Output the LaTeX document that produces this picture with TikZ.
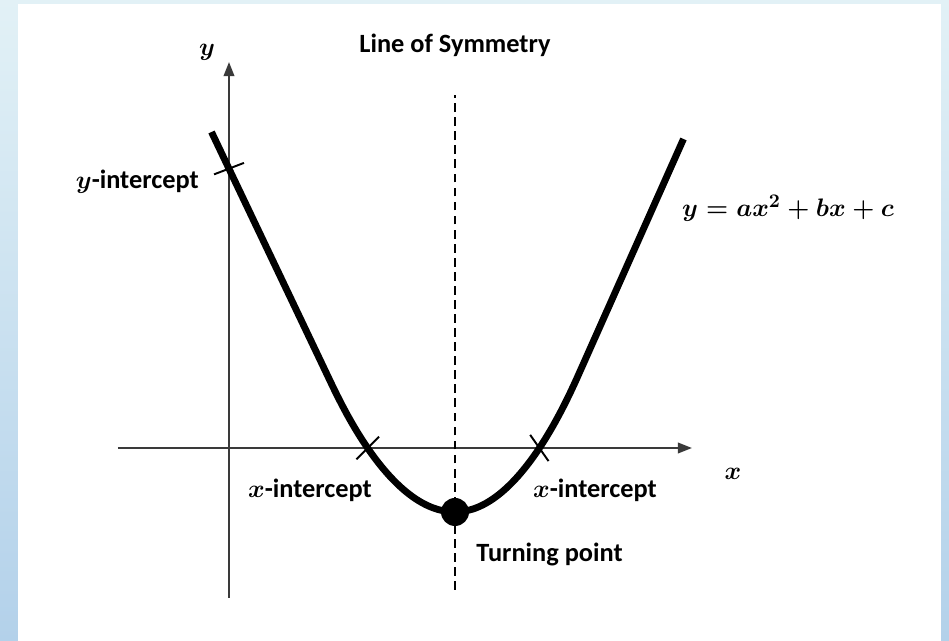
\documentclass[tikz,border=0pt]{standalone}
\usepackage{amsmath}
\usepackage{fontspec}
\setmainfont{Carlito}
\definecolor{PanelTop}{HTML}{E2F1F6}
\definecolor{PanelBot}{HTML}{B3D1EA}
\definecolor{AxisGrey}{HTML}{3A3A3A}
\usetikzlibrary{arrows.meta, positioning}
\newcommand{\mv}[1]{\mbox{\boldmath$#1$}}

\begin{document}
\begin{tikzpicture}[
  font=\fontsize{15}{18}\selectfont\bfseries,
  axis/.style={-{Triangle[length=8pt, width=6pt]}, line width=1.1pt, color=AxisGrey},
  curve/.style={line width=3.9pt, line join=round},
  tickmark/.style={line width=1.1pt},
  symline/.style={line width=1.1pt, dash pattern=on 5pt off 3pt},
  dot/.style={circle, fill=black, inner sep=0pt, minimum size=0.56cm},
  mathlbl/.style={font=\fontsize{15}{18}\selectfont\boldmath}
]
% frame
\shade[top color=PanelTop, bottom color=PanelBot] (-4.58,-3.86) rectangle (14.4,8.96);
\fill[white] (-4.22,-3.86) rectangle (14.24,8.88);
\useasboundingbox (-4.58,-3.86) rectangle (14.4,8.96);

\coordinate (ybot) at (0,-3);
\coordinate (ytop) at (0,7.72);
\coordinate (xleft) at (-2.22,0);
\coordinate (xright) at (9.26,0);
\coordinate (stop) at (4.52,7.06);
\coordinate (sbot) at (4.52,-2.84);
\coordinate (armL) at (-0.35,6.32);
\coordinate (bendL) at (2.02,1.345);
\coordinate (bendR) at (7.02,1.5325);
\coordinate (armR) at (9.09,6.18);
\coordinate (yint) at (0,5.587);
\coordinate (xintL) at (2.774,0);
\coordinate (xintR) at (6.207,0);

\draw[axis] (ybot) -- (ytop);
\draw[axis] (xleft) -- (xright);
\draw[symline] (sbot) -- (stop);

% parabola with straight arms
\draw[curve] (armL) -- (bendL) parabola bend (4.52,-1.28) (bendR) -- (armR);
\node[dot] (turn) at (4.52,-1.28) {};

\foreach \p/\a in {yint/21, xintL/45, xintR/-55}
  \draw[tickmark] ([shift={(\a:0.32)}]\p) -- ([shift={(\a+180:0.32)}]\p);

\node (sym) at (4.52,8.06) {Line of Symmetry};
\node[mathlbl] (ylab) at (-0.44,7.92) {$y$};
\node[mathlbl] (xlab) at (10.08,-0.52) {$x$};
\node[anchor=east] (ylbl) at (-0.48,5.32) {\mv{y}-intercept};
\node (xlblL) at (1.62,-0.84) {\mv{x}-intercept};
\node (xlblR) at (7.32,-0.84) {\mv{x}-intercept};
\node (tlbl) [below right=0.3cm and 0.1cm of turn] {Turning point};
\node[mathlbl] (eqn) at (11.18,4.8) {$y = ax^2 + bx + c$};
\end{tikzpicture}
\end{document}
